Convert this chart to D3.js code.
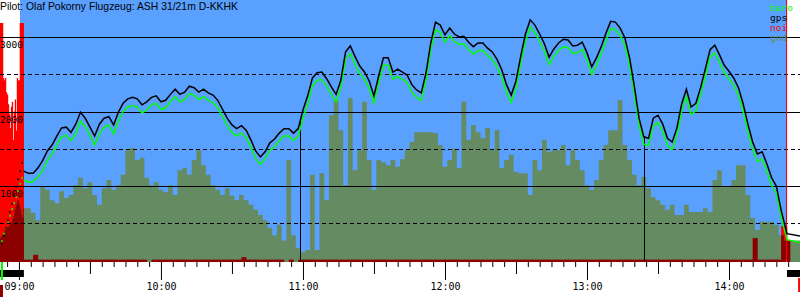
<!DOCTYPE html>
<html>
<head>
<meta charset="utf-8">
<script src="https://cdn.jsdelivr.net/npm/d3@7"></script>
<style>
  body { margin: 0; background: #fff; }
  svg { display: block; }
  text { font-family: "DejaVu Sans Mono", monospace; }
</style>
</head>
<body>
<div id="chart"></div>
<script>
const w = 800
const h = 300
const plotBottom = 262

const title = 'Pilot: Olaf Pokorny Flugzeug: ASH 31/21m D-KKHK'

// every time below is minutes after 09:00
const startMin = -8
const endMin = 330
const takeoffMin = 0.45
const landingMin = 324.6
const taskStartMin = 118.75
const taskEndMin = 264.1

// engine climb, logged as single points
const climbMin = [-7.2, -6.3, -5.5, -4.6, -3.8, -2.9, -2.1, -1.2, -0.4, 0.5, 1.3]
const climbGps = [220, 330, 440, 540, 650, 760, 880, 990, 1090, 1200, 1310]
const climbBaro = [260, 360, 440, 520, 600, 690, 770, 850, 930, 1030, 1110]

// 2 minute fixes in flight, then on the ground
const fixMin = d3.range(2, 324, 2).concat([324.5, 330])
const gpsAlt = [
  1200, 1170, 1170, 1240, 1340, 1470, 1550, 1670, 1780, 1790,
  1720, 1830, 1990, 1910, 1790, 1670, 1830, 1910, 1930, 1820,
  1990, 2110, 2170, 2190, 2170, 2090, 2130, 2190, 2210, 2130,
  2150, 2230, 2300, 2230, 2260, 2340, 2320, 2260, 2300, 2250,
  2220, 2150, 2030, 1910, 1820, 1770, 1810, 1750, 1620, 1470,
  1390, 1460, 1580, 1630, 1710, 1770, 1770, 1710, 1770, 2020,
  2210, 2450, 2520, 2530, 2440, 2330, 2230, 2420, 2800, 2880,
  2740, 2610, 2530, 2410, 2210, 2480, 2720, 2720, 2530, 2570,
  2530, 2490, 2360, 2290, 2250, 2520, 2920, 3200, 3160, 3030,
  3120, 3040, 3000, 3010, 2930, 2870, 2920, 2920, 2850, 2800,
  2700, 2560, 2360, 2220, 2410, 2740, 3040, 3230, 3160, 3040,
  2910, 2730, 2840, 2920, 2970, 2960, 2880, 2890, 2930, 2790,
  2600, 2720, 2870, 3050, 3210, 3200, 3120, 2990, 2720, 2340,
  1910, 1660, 1640, 1910, 1950, 1830, 1640, 1590, 1780, 2100,
  2300, 2060, 2110, 2320, 2570, 2830, 2890, 2760, 2620, 2540,
  2450, 2320, 2100, 1830, 1590, 1430, 1460, 1300, 1110, 1000,
  680, 360, 330, 330
]
const baroAlt = [
  1080, 1050, 1060, 1120, 1210, 1340, 1430, 1550, 1660, 1680,
  1610, 1700, 1870, 1800, 1680, 1550, 1700, 1790, 1820, 1700,
  1870, 2000, 2060, 2080, 2060, 1980, 2020, 2090, 2110, 2030,
  2050, 2130, 2200, 2130, 2160, 2240, 2220, 2160, 2200, 2150,
  2120, 2050, 1930, 1810, 1720, 1670, 1710, 1650, 1520, 1370,
  1290, 1360, 1480, 1530, 1610, 1670, 1670, 1610, 1670, 1910,
  2100, 2340, 2420, 2430, 2340, 2230, 2130, 2320, 2700, 2780,
  2640, 2510, 2430, 2310, 2110, 2380, 2620, 2620, 2430, 2470,
  2430, 2390, 2260, 2190, 2150, 2420, 2820, 3100, 3060, 2930,
  3020, 2940, 2900, 2910, 2830, 2770, 2820, 2820, 2750, 2700,
  2600, 2460, 2260, 2120, 2310, 2640, 2940, 3130, 3060, 2940,
  2810, 2630, 2740, 2820, 2870, 2860, 2780, 2790, 2830, 2690,
  2500, 2620, 2770, 2950, 3110, 3100, 3020, 2890, 2620, 2240,
  1810, 1560, 1540, 1810, 1850, 1730, 1540, 1490, 1680, 2000,
  2200, 1960, 2010, 2220, 2470, 2730, 2790, 2660, 2520, 2440,
  2350, 2220, 2000, 1730, 1490, 1330, 1360, 1200, 1010, 900,
  590, 280, 240, 240
]

// ground and engine noise: 25 s samples before take-off, then the 2 minute fixes
const earlyMin = d3.range(24).map(i => startMin + i * 25 / 60)
const earlyGnd = [300, 320, 330, 360, 380, 410, 420, 440, 450, 460, 480, 490,
  520, 560, 600, 680, 720, 760, 810, 810, 750, 680, 620, 580]
const earlyNoise = [1000, 1000, 1000, 770, 760, 770, 710, 700, 660, 620, 560, 650,
  670, 510, 630, 680, 550, 770, 760, 760, 1000, 1000, 1000, 1000]
const gndAlt = [
  700, 700, 640, 540, 990, 950, 810, 770, 930, 840,
  880, 1010, 1110, 970, 1050, 880, 750, 970, 1080, 950,
  1010, 1150, 1480, 1510, 1350, 1380, 1110, 1010, 1050, 950,
  920, 1010, 880, 1210, 1240, 1150, 1350, 1480, 1280, 1150,
  1010, 950, 880, 970, 870, 810, 880, 810, 750, 680,
  610, 540, 440, 340, 480, 270, 1350, 340, 170, 110,
  140, 1150, 140, 1170, 810, 1950, 2150, 1750, 1010, 2180,
  1210, 1480, 2130, 1350, 950, 1350, 1320, 1280, 1350, 1260,
  1360, 1480, 1590, 1720, 1720, 1720, 1720, 1710, 1550, 1260,
  1350, 1500, 1240, 2130, 1620, 1820, 1720, 1640, 1780, 1480,
  1750, 1240, 1350, 1420, 1190, 1170, 1170, 880, 1350, 1210,
  1620, 1460, 1480, 1480, 1550, 1280, 1480, 1350, 1210, 1010,
  950, 1080, 1350, 1550, 1750, 1750, 2150, 1550, 1350, 1150,
  1010, 1120, 970, 850, 810, 750, 680, 750, 610, 610,
  750, 650, 650, 650, 700, 650, 1080, 1210, 990, 990,
  1080, 1280, 1280, 880, 570, 410, 520, 520, 520, 480,
  340, 270, 270, 270
]
const noiseLevel = [
  10, 10, 30, 10, 10, 10, 10, 10, 10, 10,
  10, 10, 10, 10, 10, 10, 10, 10, 10, 10,
  10, 10, 10, 10, 10, 10, 0, 10, 10, 10,
  10, 10, 10, 10, 10, 10, 10, 10, 10, 10,
  10, 10, 10, 10, 10, 10, 20, 10, 10, 10,
  10, 10, 10, 10, 10, 0, 10, 0, 10, 10,
  10, 10, 10, 10, 10, 10, 10, 10, 10, 10,
  10, 10, 10, 10, 10, 10, 10, 10, 10, 10,
  10, 10, 10, 10, 10, 10, 10, 10, 10, 10,
  10, 10, 10, 10, 10, 10, 10, 10, 10, 10,
  10, 10, 10, 10, 10, 10, 10, 10, 10, 10,
  10, 10, 10, 10, 10, 10, 10, 10, 10, 10,
  10, 10, 10, 10, 10, 10, 10, 10, 10, 10,
  10, 10, 10, 10, 10, 10, 10, 10, 10, 10,
  10, 10, 10, 10, 10, 10, 10, 10, 10, 10,
  10, 10, 10, 10, 100, 10, 10, 10, 10, 10,
  150, 90, 0, 1000
]
const lateNoiseMin = [324.5, 325.8]

const altTicks = [500, 1000, 1500, 2000, 2500, 3000]
const legend = [
  { name: 'baro', color: '#00ff00' },
  { name: 'gps', color: '#000000' },
  { name: 'noi', color: '#ff0000' },
  { name: 'gnd', color: '#658b63' }
]
const engineRuns = [[-8, 2.1], [324.5, 330]]

const base = new Date(2000, 0, 1, 9, 0)
const toDate = m => new Date(base.getTime() + m * 60000)

const svg = d3.select('#chart')
  .append('svg')
  .attr('width', w)
  .attr('height', h)

const x = d3.scaleTime()
  .domain([toDate(startMin), toDate(endMin)])
  .range([0, w])
const y = d3.scaleLinear()
  .domain([0, 3000])
  .range([260.5, 37])
const yNoise = d3.scaleLinear()
  .domain([0, 1000])
  .range([plotBottom, 23])

// flight time background
svg.append('rect')
  .attr('x', x(toDate(takeoffMin)))
  .attr('y', 0)
  .attr('width', x(toDate(landingMin)) - x(toDate(takeoffMin)))
  .attr('height', plotBottom)
  .attr('fill', '#5aa0ff')

// noise bars
const noiseMin = earlyMin.concat(fixMin.slice(0, -2), lateNoiseMin)
const noiseVal = earlyNoise.concat(noiseLevel)
const bars = noiseMin.map((m, i) => ({
  x0: x(toDate(m)),
  x1: x(toDate(i < noiseMin.length - 1 ? noiseMin[i + 1] : endMin)),
  v: noiseVal[i]
}))

function drawNoise(g, color) {
  g.selectAll('rect')
    .data(bars)
    .enter()
    .append('rect')
    .attr('x', d => d.x0)
    .attr('y', d => yNoise(d.v))
    .attr('width', d => d.x1 - d.x0 + 0.3)
    .attr('height', d => plotBottom - yNoise(d.v))
    .attr('fill', color)
}
drawNoise(svg.append('g'), '#ff0000')

// ground
const gnd = earlyMin.map((m, i) => [m, earlyGnd[i]])
  .concat(fixMin.map((m, i) => [m, gndAlt[i]]))
const gndArea = d3.area()
  .x(d => x(toDate(d[0])))
  .y0(plotBottom)
  .y1(d => y(d[1]))
  .curve(d3.curveStep)

svg.append('clipPath')
  .attr('id', 'gndclip')
  .append('path')
  .attr('d', gndArea(gnd))

svg.append('path')
  .attr('d', gndArea(gnd))
  .attr('fill', '#658b63')

drawNoise(svg.append('g').attr('clip-path', 'url(#gndclip)'), '#8c0000')

// altitude grid
svg.append('g')
  .selectAll('line')
  .data(altTicks)
  .enter()
  .append('line')
  .attr('x1', 0)
  .attr('x2', w)
  .attr('y1', d => Math.round(y(d)) + 0.5)
  .attr('y2', d => Math.round(y(d)) + 0.5)
  .attr('stroke', '#000')
  .attr('stroke-width', 1)
  .attr('stroke-dasharray', d => d % 1000 ? '4,3' : null)

svg.append('g')
  .selectAll('text')
  .data(altTicks.filter(d => d % 1000 === 0))
  .enter()
  .append('text')
  .attr('x', 0)
  .attr('y', d => Math.round(y(d)) + 10.5)
  .attr('font-size', '9.5px')
  .text(d => d)

// task start / finish
function altAt(m) {
  const i = d3.bisectLeft(fixMin, m)
  const t = (m - fixMin[i - 1]) / (fixMin[i] - fixMin[i - 1])
  return gpsAlt[i - 1] + t * (gpsAlt[i] - gpsAlt[i - 1])
}
svg.append('g')
  .selectAll('line')
  .data([taskStartMin, taskEndMin])
  .enter()
  .append('line')
  .attr('x1', d => Math.round(x(toDate(d))) + 0.5)
  .attr('x2', d => Math.round(x(toDate(d))) + 0.5)
  .attr('y1', d => y(altAt(d)))
  .attr('y2', plotBottom)
  .attr('stroke', '#000')

// landing mark
svg.append('line')
  .attr('x1', Math.round(x(toDate(landingMin))) - 0.5)
  .attr('x2', Math.round(x(toDate(landingMin))) - 0.5)
  .attr('y1', 0)
  .attr('y2', plotBottom)
  .attr('stroke', '#ff0000')

// baro and gps traces
const trace = d3.line()
  .x(d => x(toDate(d[0])))
  .y(d => y(d[1]))

function drawTrace(climb, alt, color) {
  svg.append('g')
    .selectAll('rect')
    .data(climbMin.map((m, i) => [m, climb[i]]))
    .enter()
    .append('rect')
    .attr('x', d => x(toDate(d[0])) - 0.7)
    .attr('y', d => y(d[1]) - 1)
    .attr('width', 1.5)
    .attr('height', 2)
    .attr('fill', color)
  svg.append('path')
    .attr('d', trace(fixMin.map((m, i) => [m, alt[i]])))
    .attr('fill', 'none')
    .attr('stroke', color)
    .attr('stroke-width', 1.5)
}
drawTrace(climbBaro, baroAlt, '#00ff00')
drawTrace(climbGps, gpsAlt, '#000000')

// title and legend
svg.append('text')
  .attr('x', 0)
  .attr('y', 10)
  .attr('font-size', '10.4px')
  .style('font-family', '"Liberation Sans", Arial, sans-serif')
  .text(title)

svg.append('g')
  .selectAll('text')
  .data(legend)
  .enter()
  .append('text')
  .attr('x', 770)
  .attr('y', (d, i) => 10.5 + i * 10)
  .attr('font-size', '9.5px')
  .attr('fill', d => d.color)
  .text(d => d.name)

// time axis
const xAxis = d3.axisBottom(x)
  .ticks(d3.timeMinute.every(5))
  .tickSize(5)
  .tickFormat(d => d.getMinutes() === 0 ? d3.timeFormat('%H:%M')(d) : '')

const ax = svg.append('g')
  .attr('transform', `translate(0, ${plotBottom})`)
  .call(xAxis)
ax.select('.domain').remove()
ax.selectAll('.tick line')
  .attr('stroke', '#000')
  .attr('y2', d => d.getMinutes() === 0 ? 18 : d.getMinutes() === 30 ? 12 : 5)
ax.selectAll('.tick text')
  .attr('y', 28)
  .attr('dy', 0)
  .attr('fill', '#000')
  .attr('font-size', '10px')
  .style('font-family', '"DejaVu Sans Mono", monospace')

// engine runs and log marks
svg.append('g')
  .selectAll('rect')
  .data(engineRuns)
  .enter()
  .append('rect')
  .attr('x', d => x(toDate(d[0])))
  .attr('y', 270)
  .attr('width', d => x(toDate(d[1])) - x(toDate(d[0])))
  .attr('height', 7)
  .attr('fill', '#000')

svg.append('rect')
  .attr('x', x(toDate(-7.6)))
  .attr('y', plotBottom)
  .attr('width', 2)
  .attr('height', 18)
  .attr('fill', '#00ff00')
svg.append('rect')
  .attr('x', 0)
  .attr('y', 285)
  .attr('width', 3)
  .attr('height', 12)
  .attr('fill', '#8c0000')
svg.append('rect')
  .attr('x', x(toDate(329.2)))
  .attr('y', 278)
  .attr('width', 2)
  .attr('height', 14)
  .attr('fill', '#ff0000')
</script>
</body>
</html>
